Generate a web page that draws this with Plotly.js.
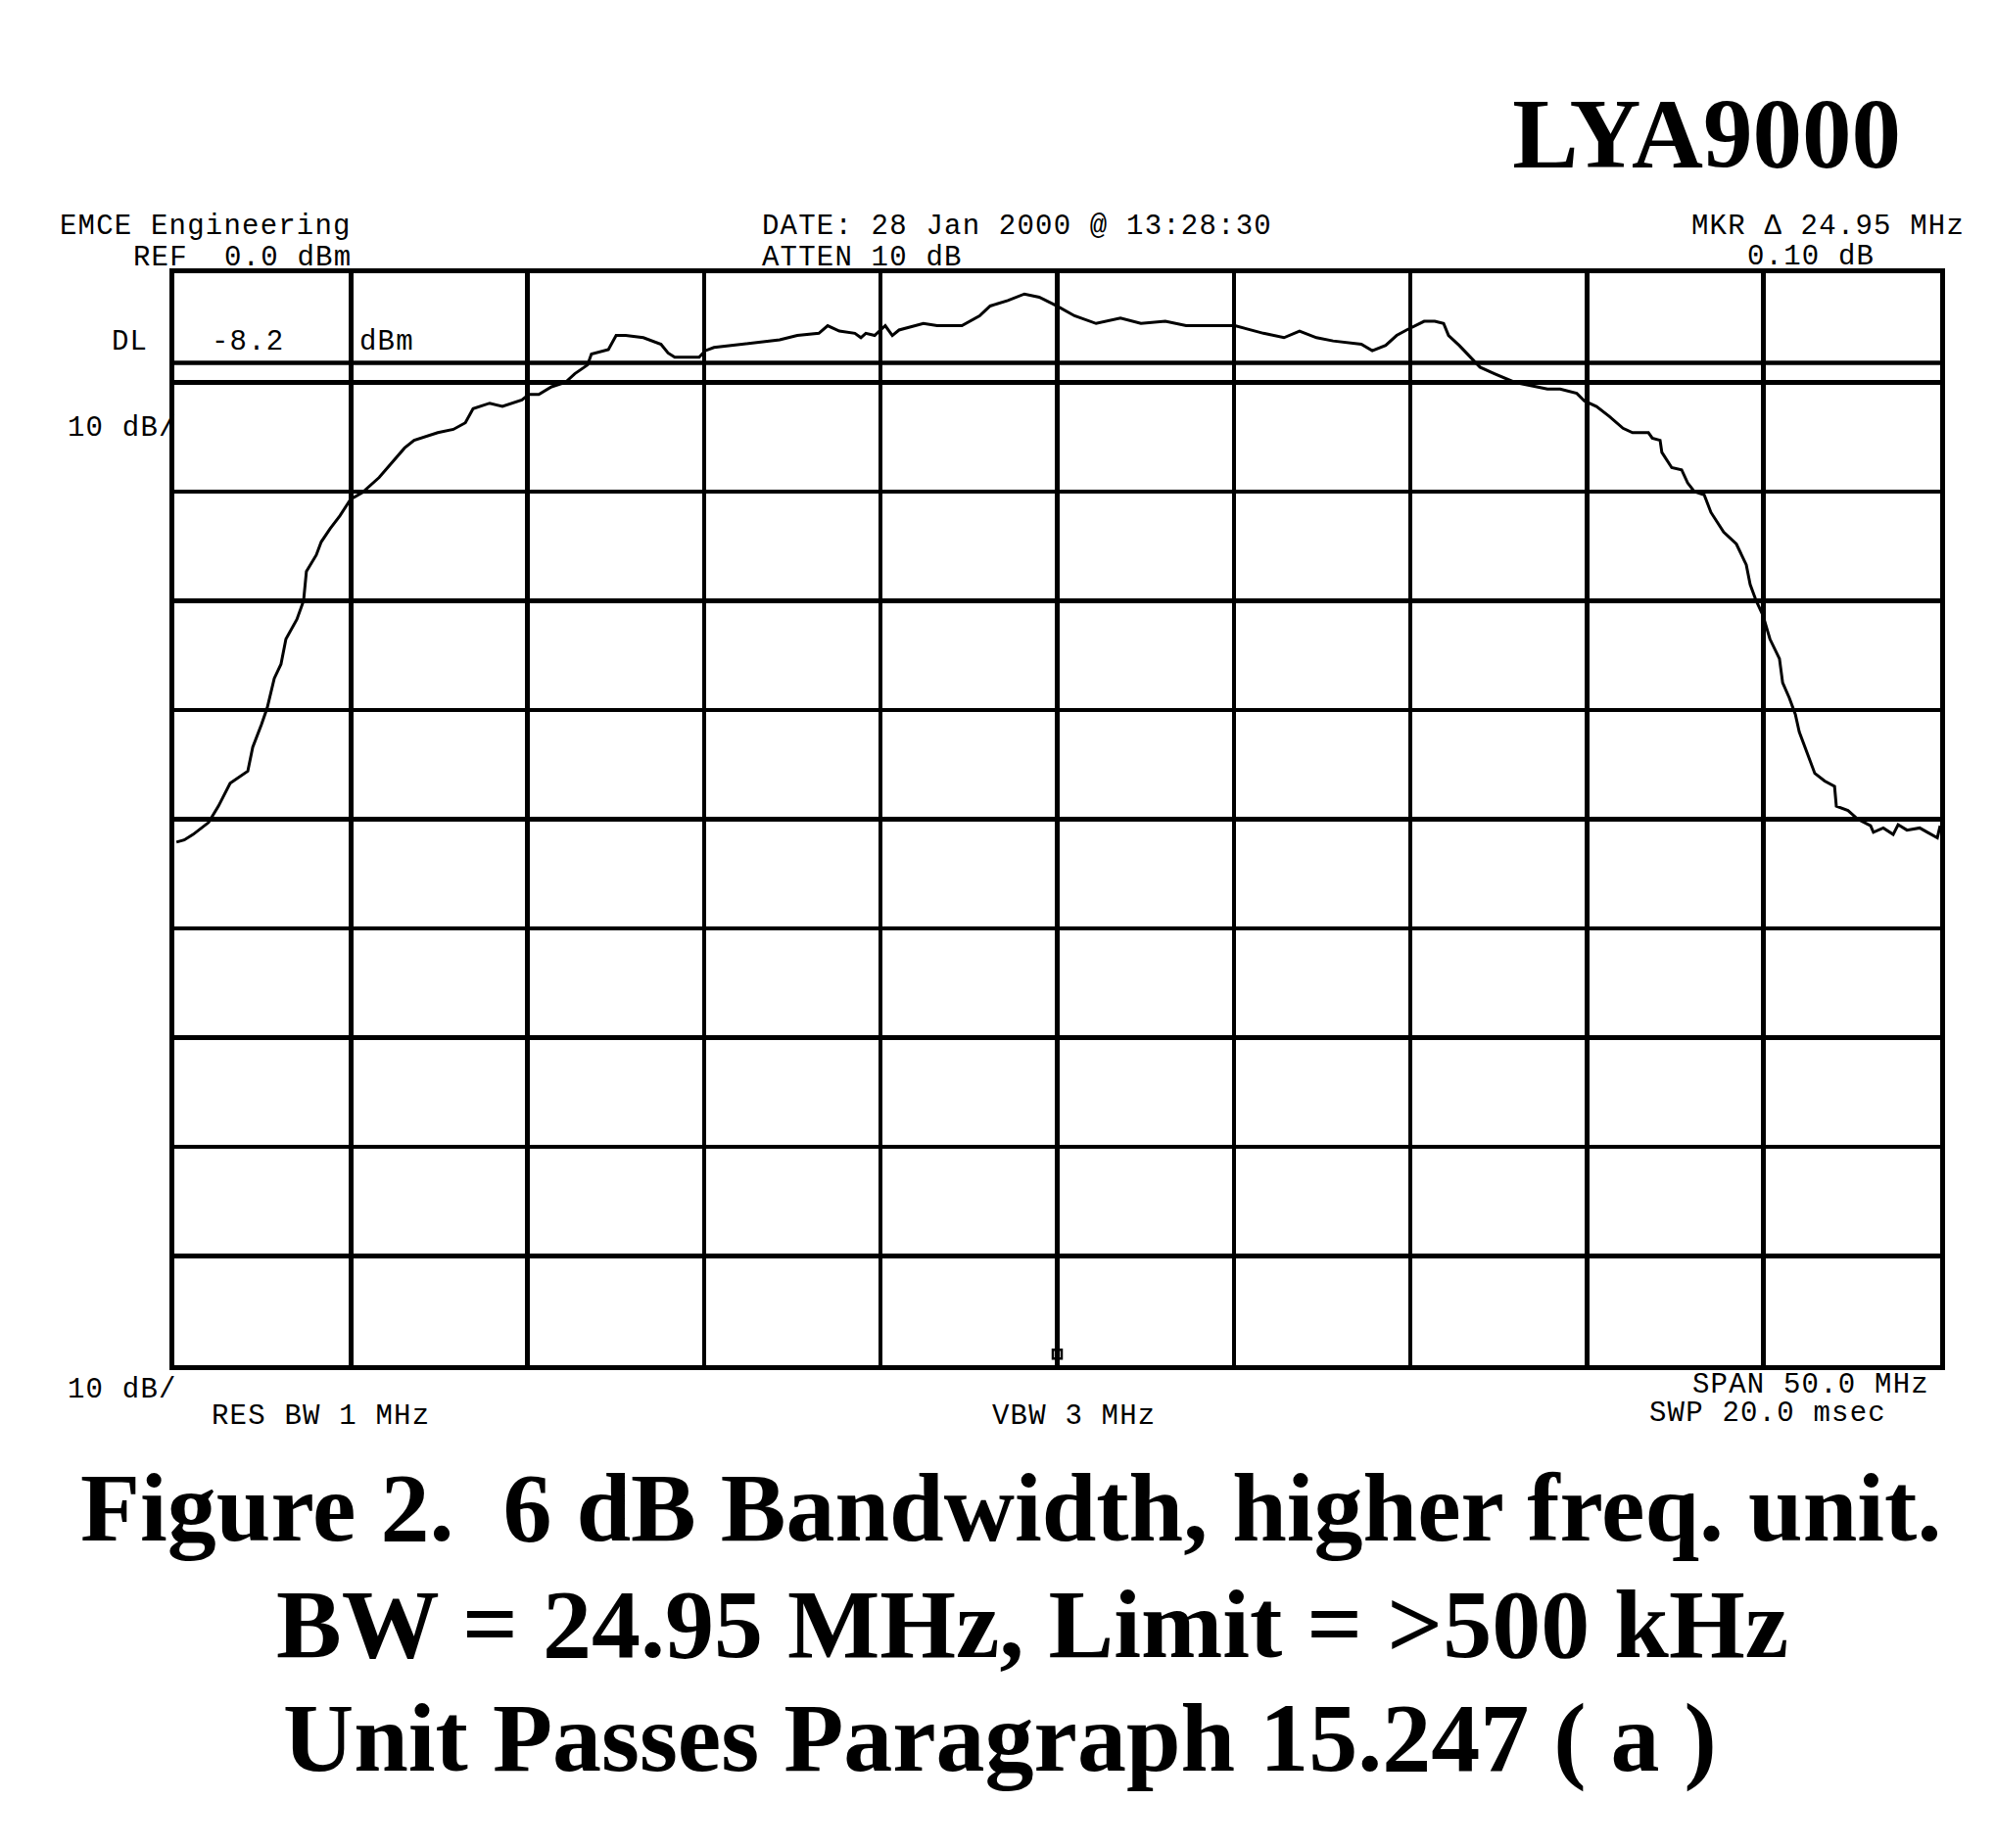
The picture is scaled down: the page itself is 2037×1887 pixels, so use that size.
<!DOCTYPE html>
<html>
<head>
<meta charset="utf-8">
<script src="https://cdn.plot.ly/plotly-3.0.1.min.js"></script>
<style>
  html, body { margin: 0; padding: 0; background: #ffffff; }
  #chart { width: 2037px; height: 1887px; }
</style>
</head>
<body>
<div id="chart"></div>
<script>
// ---- Data ----
// Frequency offset from centre (MHz), span 50 MHz
const freqMHz = [
  -24.94, -24.72, -24.47, -24.03, -23.75, -23.42, -22.92, -22.78, -22.53, -22.37,
  -22.17, -21.98, -21.84, -21.53, -21.34, -21.26, -20.98, -20.84, -20.59, -20.31,
  -20.01, -19.68, -19.20, -18.84, -18.48, -18.21, -17.54, -17.10, -16.76, -16.54,
  -16.07, -15.71, -15.43, -15.16, -14.96, -14.68, -14.32, -13.93, -13.66,
  -13.30, -13.19, -12.71, -12.49, -12.22, -11.72, -11.22, -11.02, -10.83, -10.14,
  -9.97, -9.72, -9.14, -8.56, -7.86, -7.36, -6.75, -6.50, -6.17, -5.73,
  -5.56, -5.42, -5.17, -4.87, -4.67, -4.48, -3.79, -3.40, -2.70, -2.20,
  -1.90, -1.40, -0.93, -0.51,
  -0.01, 0.49, 1.10, 1.79, 2.37, 3.06, 3.65, 4.45, 5.03, 5.84,
  6.42, 6.86, 7.34, 7.81, 8.61, 8.92, 9.30, 9.61, 9.89, 10.39,
  10.69, 10.94, 11.08, 11.38, 11.77, 11.97, 12.38, 12.96, 13.58,
  13.88, 14.24, 14.71, 14.93, 15.27, 15.63, 16.02, 16.29, 16.74, 16.85,
  17.07, 17.12, 17.40, 17.68, 17.85, 18.04, 18.32, 18.51, 18.87, 19.23,
  19.51, 19.62, 19.79, 19.98, 20.18, 20.45, 20.54, 20.73, 20.90, 21.01,
  21.17, 21.45, 21.73, 22.01, 22.06, 22.39, 22.67, 23.03, 23.11, 23.39,
  23.67, 23.81, 24.06, 24.42, 24.64, 24.92, 25.00
];
// Measured level (dBm)
const levelDbm = [
  -52.1, -51.9, -51.4, -50.3, -48.8, -46.7, -45.6, -43.4, -41.3, -39.8,
  -37.1, -35.8, -33.5, -31.7, -30.0, -27.3, -25.8, -24.6, -23.4, -22.2,
  -20.7, -20.1, -18.7, -17.4, -16.0, -15.3, -14.6, -14.3, -13.7, -12.4,
  -11.9, -12.2, -11.9, -11.6, -11.1, -11.1, -10.4, -10.0, -9.2,
  -8.4, -7.4, -7.0, -5.7, -5.7, -5.9, -6.5, -7.3, -7.7, -7.7,
  -7.1, -6.8, -6.6, -6.4, -6.1, -5.7, -5.5, -4.8, -5.3, -5.5,
  -5.9, -5.5, -5.7, -4.8, -5.7, -5.2, -4.6, -4.8, -4.8, -3.9,
  -3.0, -2.5, -1.9, -2.2,
  -3.0, -3.9, -4.6, -4.1, -4.6, -4.4, -4.8, -4.8, -4.8, -5.5,
  -5.9, -5.3, -5.9, -6.2, -6.5, -7.1, -6.6, -5.7, -5.2, -4.4,
  -4.4, -4.6, -5.7, -6.6, -7.9, -8.6, -9.2, -10.0, -10.4,
  -10.6, -10.6, -11.0, -11.7, -12.2, -13.1, -14.2, -14.6, -14.6, -15.1,
  -15.3, -16.4, -17.8, -18.0, -19.2, -20.0, -20.3, -21.9, -23.7, -24.8,
  -26.7, -28.5, -30.0, -31.3, -33.5, -35.3, -37.5, -38.9, -40.4, -42.0,
  -43.4, -45.8, -46.5, -47.0, -48.8, -49.2, -50.0, -50.6, -51.2, -50.8,
  -51.4, -50.5, -51.0, -50.8, -51.2, -51.7, -50.6
];
// Instrument settings
const refLevelDbm = 0;          // top of screen
const dbPerDiv = 10;
const spanMHz = 50;
const displayLineDbm = -8.2;    // DL
const markerFreqMHz = [0];
const markerLevelDbm = [-99];

// ---- Page geometry (pixels) ----
const W = 2037, H = 1887;
const PL = 178, PR = 1981, PT = 279, PB = 1394;
const px2x = px => (px - PL) / (PR - PL);
const py2y = py => (PB - py) / (PB - PT);

const MONO = 'Liberation Mono, DejaVu Sans Mono, monospace';
const SERIF = 'Liberation Serif, Times New Roman, serif';
const monoSize = 29;

// instrument annotation text: [text, left px, baseline px]
const instText = [
  ['EMCE Engineering', 60, 240],
  ['REF  0.0 dBm', 135, 272],
  ['DATE: 28 Jan 2000 @ 13:28:30', 777, 240],
  ['ATTEN 10 dB', 777, 272],
  ['MKR \u0394 24.95 MHz', 1726, 240],
  ['0.10 dB', 1783, 271],
  ['DL', 113, 358],
  ['-8.2', 215, 358],
  ['dBm', 366, 358],
  ['10 dB/', 68, 446],
  ['10 dB/', 68, 1428],
  ['RES BW 1 MHz', 215, 1455],
  ['VBW 3 MHz', 1012, 1455],
  ['SPAN 50.0 MHz', 1727, 1423],
  ['SWP 20.0 msec', 1683, 1452]
];

const captions = [
  ['Figure 2. \u00a06 dB Bandwidth, higher freq. unit.', 1032, 1570],
  ['BW = 24.95 MHz, Limit = &gt;500 kHz', 1054, 1689],
  ['Unit Passes Paragraph 15.247 ( a )', 1021, 1805]
];

const annotations = [];
instText.forEach(([t, x, b]) => {
  annotations.push({
    text: '<span style="letter-spacing:1.2px">' + t + '</span>',
    xref: 'paper', yref: 'paper',
    x: px2x(x - 1), y: py2y(b - 0.3 * monoSize),
    xanchor: 'left', yanchor: 'middle',
    showarrow: false,
    font: { family: MONO, size: monoSize, color: '#000' }
  });
});
captions.forEach(([t, cx, b]) => {
  annotations.push({
    text: '<b>' + t + '</b>',
    xref: 'paper', yref: 'paper',
    x: px2x(cx), y: py2y(b - 31),
    xanchor: 'center', yanchor: 'middle',
    showarrow: false,
    font: { family: SERIF, size: 100, color: '#000' }
  });
});

const traces = [
  {
    x: freqMHz, y: levelDbm,
    type: 'scatter', mode: 'lines',
    line: { color: '#000', width: 3 },
    hoverinfo: 'x+y', showlegend: false
  },
  {
    x: markerFreqMHz, y: markerLevelDbm,
    type: 'scatter', mode: 'markers',
    marker: { symbol: 'square-open', size: 9, color: '#000', line: { width: 2.5, color: '#000' } },
    showlegend: false
  }
];

const layout = {
  width: W, height: H,
  autosize: false,
  paper_bgcolor: '#fff', plot_bgcolor: '#fff',
  margin: { l: PL, r: W - PR, t: PT, b: H - PB, pad: 0 },
  showlegend: false,
  title: {
    text: '<b>LYA9000</b>',
    font: { family: SERIF, size: 101, color: '#000' },
    xref: 'container', yref: 'container',
    x: 1941 / W, xanchor: 'right',
    y: 1 - 136 / H, yanchor: 'middle'
  },
  xaxis: {
    range: [-spanMHz / 2, spanMHz / 2],
    dtick: spanMHz / 10, tick0: 0,
    showgrid: true, gridcolor: '#000', gridwidth: 4.5,
    zeroline: false,
    showline: true, linecolor: '#000', linewidth: 5, mirror: true,
    showticklabels: false, ticks: '',
    fixedrange: true
  },
  yaxis: {
    range: [refLevelDbm - 10 * dbPerDiv, refLevelDbm],
    dtick: dbPerDiv, tick0: 0,
    showgrid: true, gridcolor: '#000', gridwidth: 4.5,
    zeroline: false,
    showline: true, linecolor: '#000', linewidth: 5, mirror: true,
    showticklabels: false, ticks: '',
    fixedrange: true
  },
  shapes: [
    {
      type: 'line', xref: 'paper', yref: 'y',
      x0: 0, x1: 1, y0: displayLineDbm, y1: displayLineDbm,
      line: { color: '#000', width: 4.5 }
    }
  ],
  annotations: annotations
};

Plotly.newPlot('chart', traces, layout, { staticPlot: true, displayModeBar: false });
</script>
</body>
</html>
